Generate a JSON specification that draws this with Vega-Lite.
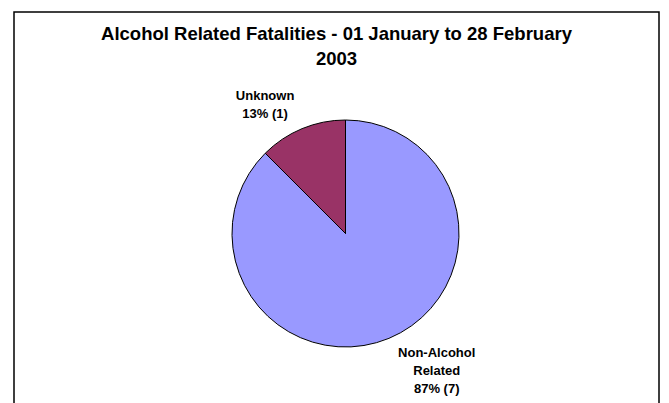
{
  "$schema": "https://vega.github.io/schema/vega-lite/v6.json",
  "autosize": {"type": "fit", "contains": "padding"},
  "width": 669,
  "height": 403,
  "padding": {"left": 13, "top": 11, "right": 9, "bottom": -6},
  "background": "white",
  "config": {
    "view": {"stroke": null},
    "font": "Liberation Sans"
  },
  "title": {
    "text": ["Alcohol Related Fatalities - 01 January to 28 February", "2003"],
    "font": "Liberation Sans",
    "fontSize": 18.5,
    "fontWeight": "bold",
    "color": "#000000",
    "anchor": "middle",
    "frame": "group",
    "baseline": "alphabetic",
    "lineHeight": 25,
    "offset": -72
  },
  "data": {
    "values": [
      {"category": "Non-Alcohol Related", "count": 7, "label": "Non-Alcohol\nRelated\n87% (7)", "ord": 1},
      {"category": "Unknown", "count": 1, "label": "Unknown\n13% (1)", "ord": 2}
    ]
  },
  "layer": [
    {
      "data": {"values": [{"frame": 1}]},
      "mark": {"type": "rect", "fill": null, "fillOpacity": 0, "stroke": "#000000", "strokeWidth": 1.5},
      "encoding": {}
    },
    {
      "mark": {"type": "arc", "outerRadius": 113.5, "stroke": "#000000", "strokeWidth": 1, "x": {"expr": "width/2+9"}, "y": {"expr": "height/2+23.5"}},
      "encoding": {
        "theta": {"field": "count", "type": "quantitative", "stack": true},
        "order": {"field": "ord", "type": "quantitative"},
        "color": {
          "field": "category",
          "type": "nominal",
          "scale": {"domain": ["Non-Alcohol Related", "Unknown"], "range": ["#9999FF", "#993366"]},
          "legend": null
        }
      }
    },
    {
      "mark": {"type": "text", "radius": 150, "dx": -23, "dy": 1, "x": {"expr": "width/2+9"}, "y": {"expr": "height/2+23.5"}, "fontSize": 13, "fontWeight": "bold", "lineBreak": "\n", "lineHeight": 18, "baseline": "middle", "align": "center", "color": "#000000"},
      "encoding": {
        "theta": {"field": "count", "type": "quantitative", "stack": true},
        "order": {"field": "ord", "type": "quantitative"},
        "text": {"condition": {"test": "datum.category == 'Unknown'", "field": "label"}, "value": ""}
      }
    },
    {
      "mark": {"type": "text", "radius": 160, "dx": 30, "dy": -28, "x": {"expr": "width/2+9"}, "y": {"expr": "height/2+23.5"}, "fontSize": 13, "fontWeight": "bold", "lineBreak": "\n", "lineHeight": 18, "baseline": "middle", "align": "center", "color": "#000000"},
      "encoding": {
        "theta": {"field": "count", "type": "quantitative", "stack": true},
        "order": {"field": "ord", "type": "quantitative"},
        "text": {"condition": {"test": "datum.category == 'Non-Alcohol Related'", "field": "label"}, "value": ""}
      }
    }
  ]
}
